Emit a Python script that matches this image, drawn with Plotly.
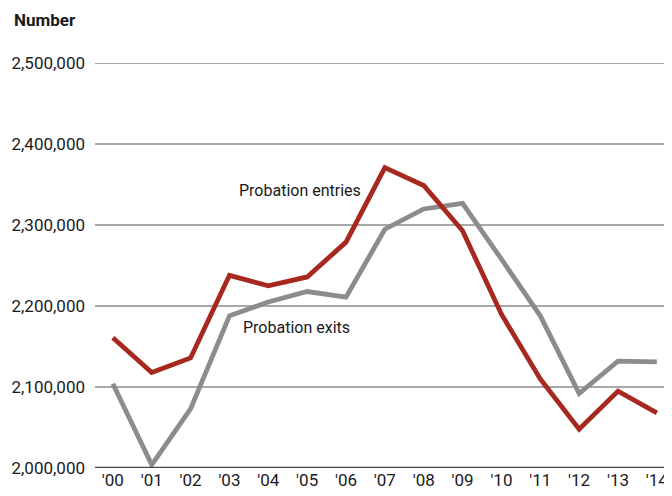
import plotly.graph_objects as go

years = ["'00", "'01", "'02", "'03", "'04", "'05", "'06", "'07", "'08", "'09", "'10", "'11", "'12", "'13", "'14"]
entries = [2161000, 2118000, 2136000, 2238000, 2225000, 2236000, 2279000, 2371000, 2349000, 2293000, 2190000, 2110000, 2048000, 2095000, 2068000]
exits = [2104000, 2004000, 2073000, 2188000, 2205000, 2218000, 2211000, 2295000, 2320000, 2327000, 2258000, 2188000, 2092000, 2132000, 2131000]
y_ticks = [2000000, 2100000, 2200000, 2300000, 2400000, 2500000]
y_ticktext = ["2,000,000", "2,100,000", "2,200,000", "2,300,000", "2,400,000", "2,500,000"]

FONT = "Roboto, Liberation Sans, sans-serif"

fig = go.Figure()
fig.add_trace(go.Scatter(x=list(range(len(years))), y=exits, mode="lines",
                         line=dict(color="#8C8C8E", width=4.8), name="Probation exits"))
fig.add_trace(go.Scatter(x=list(range(len(years))), y=entries, mode="lines",
                         line=dict(color="#A6281E", width=4.8), name="Probation entries"))

fig.update_layout(
    width=664, height=488,
    margin=dict(l=87, r=0, t=55, b=28),
    paper_bgcolor="white", plot_bgcolor="white",
    showlegend=False,
    font=dict(family=FONT, size=17, color="#1a1a1a"),
    xaxis=dict(range=[-0.46, 14.39], tickvals=list(range(len(years))), ticktext=years,
               showgrid=False, zeroline=False, showline=False, ticks="",
               tickfont=dict(family=FONT, size=17)),
    yaxis=dict(range=[2000000, 2500300], tickvals=y_ticks, ticktext=y_ticktext,
               showgrid=True, gridcolor="#A8A8A8", gridwidth=1.5, zeroline=False,
               showline=False, ticks="", ticklabelstandoff=9,
               tickfont=dict(family=FONT, size=17)),
    shapes=[
        dict(type="line", xref="paper", yref="y", x0=0, x1=1, y0=2500000, y1=2500000,
             line=dict(color="#A8A8A8", width=1.5), layer="below"),
        dict(type="line", xref="paper", yref="y", x0=0, x1=1, y0=2000000, y1=2000000,
             line=dict(color="#444444", width=2.5)),
    ],
    annotations=[
        dict(text="<b>Number</b>", xref="paper", yref="paper", x=-0.144, y=1.106,
             xanchor="left", yanchor="middle", showarrow=False, font=dict(family=FONT, size=17)),
        dict(text="Probation entries", xref="paper", yref="paper", x=0.355, y=0.686,
             xanchor="center", yanchor="middle", showarrow=False, font=dict(family=FONT, size=16)),
        dict(text="Probation exits", xref="paper", yref="paper", x=0.350, y=0.347,
             xanchor="center", yanchor="middle", showarrow=False, font=dict(family=FONT, size=16)),
    ],
)

fig.write_html("out.html")
